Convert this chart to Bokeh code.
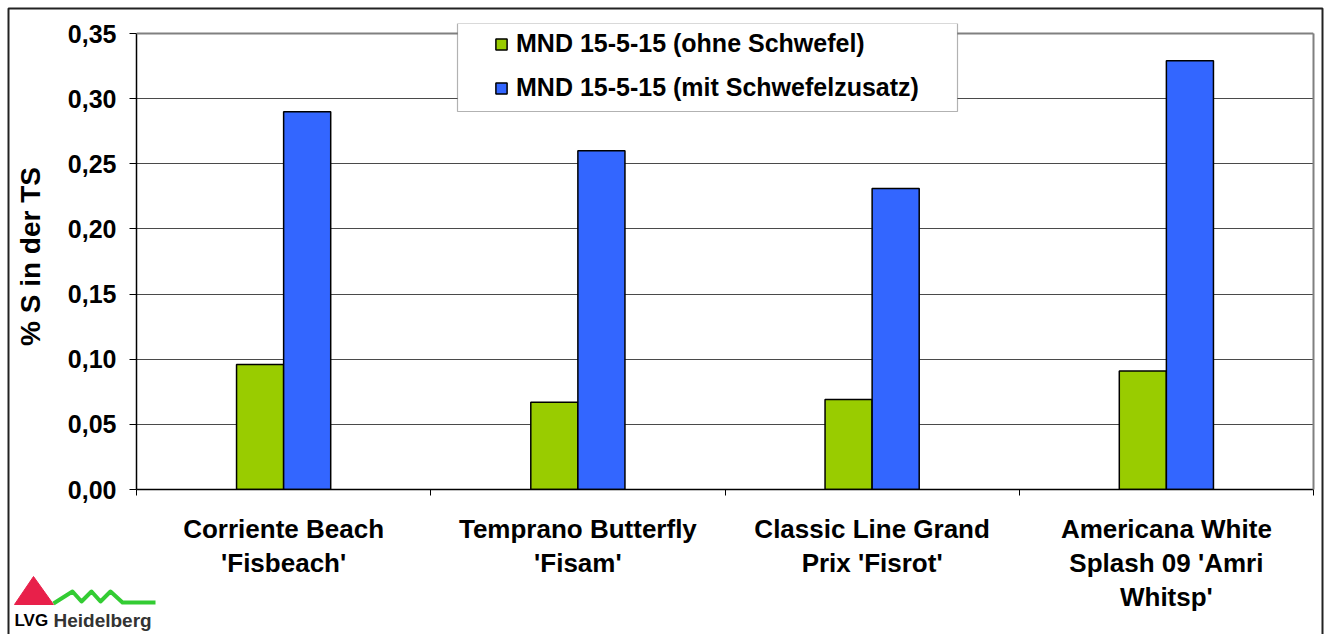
import numpy as np
from bokeh.plotting import figure
from bokeh.models import (ColumnDataSource, FixedTicker, CustomJSTickFormatter, Range1d,
                          Legend, LegendItem, BoxAnnotation, Span, LinearAxis)
from bokeh.core.properties import value
from bokeh.embed import file_html
from bokeh.resources import INLINE

# ---------------- data ----------------
categories = ["Corriente Beach\n'Fisbeach'", "Temprano Butterfly\n'Fisam'",
              "Classic Line Grand\nPrix 'Fisrot'", "Americana White\nSplash 09 'Amri\nWhitsp'"]
series_names = ["MND 15-5-15 (ohne Schwefel)", "MND 15-5-15 (mit Schwefelzusatz)"]
ohne_schwefel = [0.096, 0.067, 0.069, 0.091]
mit_schwefel = [0.290, 0.260, 0.231, 0.329]
y_ticks = [0.0, 0.05, 0.10, 0.15, 0.20, 0.25, 0.30, 0.35]
y_max = 0.35
logo_texts = ["LVG", "Heidelberg"]

# ---------------- styles ----------------
FONT = "Liberation Sans"
GREEN = "#99cc00"
BLUE = "#3366ff"
BAR_W = 0.16
W, H = 1324, 634

centers = np.arange(len(categories)) + 0.5
src = ColumnDataSource(dict(
    x1=centers - BAR_W / 2, x2=centers + BAR_W / 2,
    v1=ohne_schwefel, v2=mit_schwefel))

# frame: 136..1313 x 23..489 (extra 10px above 0.35 for the legend box)
p = figure(width=W, height=H, output_backend="svg", toolbar_location=None,
           x_range=Range1d(0, len(categories)), y_range=Range1d(0, y_max * 466 / 456),
           min_border_left=136, min_border_right=11, min_border_top=23, min_border_bottom=145)
p.background_fill_color = "white"
p.border_fill_color = "white"
p.outline_line_color = None

r1 = p.vbar(x="x1", top="v1", width=BAR_W, source=src, fill_color=GREEN,
            line_color="black", line_width=1.5)
r2 = p.vbar(x="x2", top="v2", width=BAR_W, source=src, fill_color=BLUE,
            line_color="black", line_width=1.5)

# grid
p.xgrid.visible = False
p.ygrid.grid_line_color = "#4a4a4a"
p.ygrid.grid_line_width = 1

# y axis
p.yaxis.bounds = (0, y_max)
p.yaxis.ticker = FixedTicker(ticks=y_ticks)
p.yaxis.formatter = CustomJSTickFormatter(code="return tick.toFixed(2).replace('.', ',');")
p.yaxis.axis_label = "% S in der TS"
p.yaxis.axis_label_text_font = FONT
p.yaxis.axis_label_text_font_style = "bold"
p.yaxis.axis_label_text_font_size = "28px"
p.yaxis.axis_label_text_color = "black"
p.yaxis.axis_label_standoff = 19
p.yaxis.major_label_text_font = FONT
p.yaxis.major_label_text_font_style = "bold"
p.yaxis.major_label_text_font_size = "25px"
p.yaxis.major_label_text_color = "black"
p.yaxis.major_label_standoff = 13
p.yaxis.major_tick_out = 7
p.yaxis.major_tick_in = 0
p.yaxis.major_tick_line_color = "black"
p.yaxis.minor_tick_line_color = None
p.yaxis.axis_line_color = "black"
p.yaxis.axis_line_width = 1.5

# right border of the plot area
rax = LinearAxis(bounds=(0, y_max), ticker=FixedTicker(ticks=[]),
                 axis_line_color="#808080", axis_line_width=2,
                 major_tick_line_color=None, minor_tick_line_color=None)
p.add_layout(rax, "right")

# x axis: labels at centers, ticks at category boundaries
xax = p.below[0]
xax.ticker = FixedTicker(ticks=list(centers),
                         minor_ticks=list(np.arange(len(categories) + 1)))
xax.major_label_overrides = {float(c): lab for c, lab in zip(centers, categories)}
xax.major_label_text_font = FONT
xax.major_label_text_font_style = "bold"
xax.major_label_text_font_size = "26px"
xax.major_label_text_color = "black"
xax.major_label_text_line_height = 1.14
xax.major_label_standoff = 18
xax.major_tick_out = 0
xax.major_tick_in = 0
xax.minor_tick_out = 6
xax.minor_tick_in = 0
xax.minor_tick_line_color = "black"
xax.axis_line_color = "black"
xax.axis_line_width = 1.5

# top border of the plot area
p.add_layout(Span(location=y_max, dimension="width", line_color="#808080", line_width=2))

# legend box (drawn separately) + legend
box = BoxAnnotation(left=321, right=821, bottom=378, top=466,
                    left_units="screen", right_units="screen",
                    bottom_units="screen", top_units="screen",
                    fill_color="white", fill_alpha=1.0, line_color="black", line_width=1.2)
p.add_layout(box)

legend = Legend(items=[LegendItem(label=series_names[0], renderers=[r1]),
                       LegendItem(label=series_names[1], renderers=[r2])],
                location=(358, 387), orientation="vertical",
                background_fill_alpha=0, border_line_color=None,
                padding=6, margin=0, spacing=15, label_height=20,
                glyph_width=14, glyph_height=14, label_standoff=8,
                label_text_font=FONT, label_text_font_style="bold",
                label_text_font_size="25px", label_text_color="black")
p.add_layout(legend, "center")

# ---- overlay canvas (pixel coordinates) for the chart border and the logo ----
ov = figure(width=W, height=H, output_backend="svg", toolbar_location=None, title=None,
            x_range=Range1d(0, W), y_range=Range1d(H, 0), min_border=0,
            x_axis_location=None, y_axis_location=None)
ov.background_fill_color = None
ov.border_fill_color = None
ov.outline_line_color = None
ov.grid.visible = False
ov.styles = {"position": "absolute", "left": "0px", "top": "0px", "pointer-events": "none"}

# outer border of the whole chart
ov.line(x=[8, 8, 1322, 1322], y=[H + 20, 8, 8, H + 20], line_color="#222222", line_width=2)
# logo: red triangle, green zigzag, text
ov.patch(x=[14, 33, 53], y=[604, 576, 604], fill_color="#e8204a", line_color="#e8204a")
ov.line(x=[53, 72, 81, 91, 100, 110, 122, 155], y=[603, 591, 601, 591, 601, 591, 602, 602],
        line_color="#33cc33", line_width=4, line_join="round")
ov.text(x=[14], y=[620], text=[logo_texts[0]], text_font=value(FONT), text_font_style="bold",
        text_font_size="17px", text_color="black", text_baseline="alphabetic")
ov.text(x=[53], y=[620], text=[logo_texts[1]], text_font=value(FONT), text_font_style="bold",
        text_font_size="19px", text_color="#333333", text_baseline="alphabetic")

open("out.html", "w").write(file_html([p, ov], INLINE))
